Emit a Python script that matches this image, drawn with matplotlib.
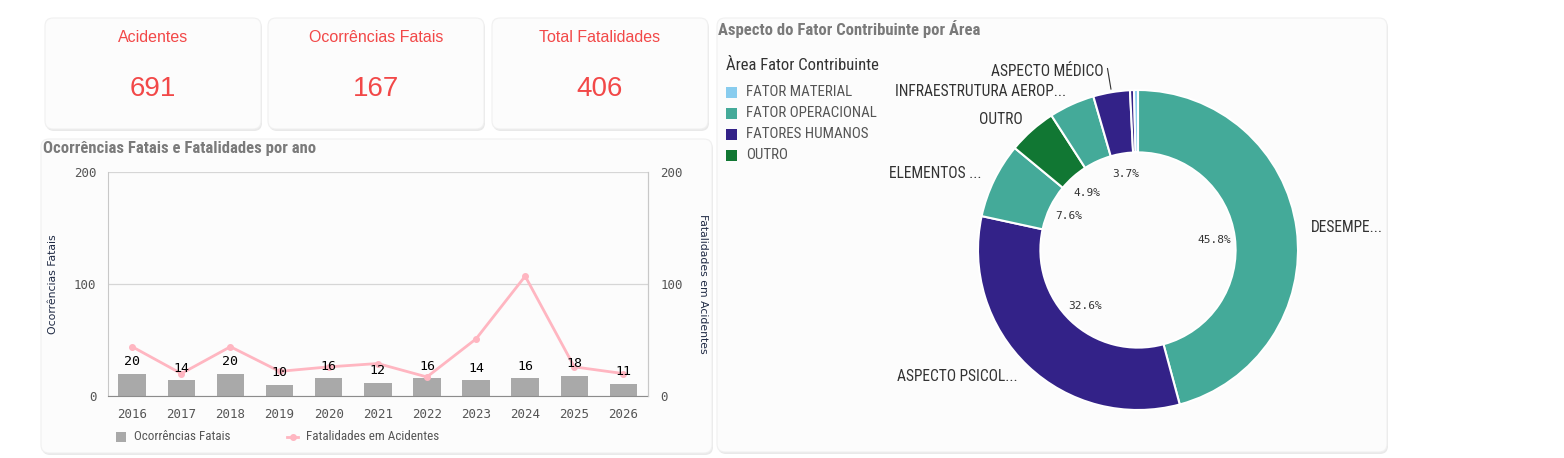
import numpy as np
import matplotlib
matplotlib.use("Agg")
import matplotlib.pyplot as plt
from matplotlib import font_manager
from matplotlib.patches import FancyBboxPatch, Rectangle

# ---- dados ----
kpi_titulos = ["Acidentes", "Ocorrências Fatais", "Total Fatalidades"]
kpi_valores = [691, 167, 406]

anos = ["2016", "2017", "2018", "2019", "2020", "2021", "2022", "2023", "2024", "2025", "2026"]
ocorrencias = [20, 14, 20, 10, 16, 12, 16, 14, 16, 18, 11]
fatalidades = [44, 20, 44, 22, 26, 29, 17, 51, 107, 26, 20]

aspectos = ["DESEMPE...", "ASPECTO PSICOL...", "ELEMENTOS ...", "OUTRO",
            "INFRAESTRUTURA AEROP...", "ASPECTO MÉDICO", "", ""]
aspecto_pct = [45.8, 32.6, 7.6, 4.9, 4.6, 3.7, 0.4, 0.4]
pct_visivel = [True, True, True, True, False, True, False, False]
aspecto_area = ["FATOR OPERACIONAL", "FATORES HUMANOS", "FATOR OPERACIONAL", "OUTRO",
                "FATOR OPERACIONAL", "FATORES HUMANOS", "FATORES HUMANOS", "FATOR MATERIAL"]
areas = ["FATOR MATERIAL", "FATOR OPERACIONAL", "FATORES HUMANOS", "OUTRO"]
cores_area = {"FATOR MATERIAL": "#88ccee", "FATOR OPERACIONAL": "#44aa99",
              "FATORES HUMANOS": "#332288", "OUTRO": "#117733"}

# fonte estreita (estilo Qlik)
disp = {f.name for f in font_manager.fontManager.ttflist}
NARROW = "Liberation Sans"
for nome in ["Liberation Sans Narrow", "Roboto Condensed", "Open Sans Condensed"]:
    if nome in disp:
        NARROW = nome
        break
MONO = "DejaVu Sans Mono"

W, H = 1564, 458
fig = plt.figure(figsize=(W / 100, H / 100), dpi=100)
fig.patch.set_facecolor("white")

bg = fig.add_axes([0, 0, 1, 1])
bg.set_xlim(0, W)
bg.set_ylim(H, 0)
bg.axis("off")


def painel(x0, y0, x1, y1):
    bg.add_patch(FancyBboxPatch((x0 + 1, y0 + 2), x1 - x0, y1 - y0,
                                boxstyle="round,pad=0,rounding_size=8",
                                fc="#e9e9e9", ec="none", zorder=0))
    bg.add_patch(FancyBboxPatch((x0, y0), x1 - x0, y1 - y0,
                                boxstyle="round,pad=0,rounding_size=8",
                                fc="#fcfcfc", ec="#f0f0f0", lw=0.8, zorder=1))


def eixo(x0, y0, x1, y1):
    return fig.add_axes([x0 / W, 1 - y1 / H, (x1 - x0) / W, (y1 - y0) / H])


# ---- cartões KPI ----
card_x = [45, 268, 492]
for cx, t, v in zip(card_x, kpi_titulos, kpi_valores):
    painel(cx, 18, cx + 216, 129)
    bg.text(cx + 108, 37, t, ha="center", va="center", fontsize=11.5,
            color="#f24848", family="Liberation Sans", zorder=3)
    bg.text(cx + 108, 89, str(v), ha="center", va="center", fontsize=20,
            color="#f24848", family="Liberation Sans", zorder=3)

# ---- painel linha / barras ----
painel(41, 139, 712, 453)
bg.text(43, 148, "Ocorrências Fatais e Fatalidades por ano", ha="left", va="center",
        fontsize=12, fontweight="bold", color="#7a7a7a", family=NARROW, zorder=3)

ax = eixo(107.6, 172, 648, 396)
ax.set_facecolor("none")
x = np.arange(len(anos))
ax.bar(x, ocorrencias, width=0.56, color="#a9a9a9", zorder=2)
ax.set_xlim(-0.5, len(anos) - 0.5)
ax.set_ylim(0, 200)
ax.set_yticks([0, 100, 200])
ax.set_xticks(x)
ax.set_xticklabels(anos)
ax.yaxis.grid(True, color="#d6d6d6", lw=0.9)
ax.set_axisbelow(True)
ax.spines["top"].set_visible(False)
ax.spines["left"].set_color("#c8c8c8")
ax.spines["right"].set_color("#c8c8c8")
ax.spines["bottom"].set_color("#8c8c8c")
ax.tick_params(axis="both", length=0, labelsize=9, labelcolor="#555555")
ax.tick_params(axis="y", pad=8)
ax.tick_params(axis="x", pad=9)
for lb in ax.get_xticklabels() + ax.get_yticklabels():
    lb.set_family(MONO)

ax2 = ax.twinx()
ax2.plot(x, fatalidades, color="#ffb6c1", lw=2, marker="o", ms=4, zorder=3)
ax2.set_ylim(0, 200)
ax2.set_yticks([0, 100, 200])
ax2.tick_params(axis="y", length=0, labelsize=9, labelcolor="#555555", pad=9)
for lb in ax2.get_yticklabels():
    lb.set_family(MONO)
for s in ["top", "left", "bottom"]:
    ax2.spines[s].set_visible(False)
ax2.spines["right"].set_color("#c8c8c8")
for i, v in enumerate(ocorrencias):
    ax2.annotate(str(v), (i, v), xytext=(0, 8.6), textcoords="offset points",
                 ha="center", va="center", fontsize=9.5, family=MONO,
                 color="black", zorder=5)

bg.text(53, 284, "Ocorrências Fatais", rotation=90, ha="center", va="center",
        fontsize=7.8, color="#1f2a44", zorder=3)
bg.text(703, 284, "Fatalidades em Acidentes", rotation=270, ha="center", va="center",
        fontsize=7.8, color="#1f2a44", zorder=3)

# legenda manual
bg.add_patch(Rectangle((116, 432), 10, 10, fc="#a9a9a9", ec="none", zorder=3))
bg.text(134, 437, "Ocorrências Fatais", ha="left", va="center", fontsize=9.4,
        color="#555555", family=NARROW, zorder=3)
bg.plot([287, 298], [437, 437], color="#ffb6c1", lw=2, zorder=3)
bg.plot([292.5], [437], "o", color="#ffb6c1", ms=4, zorder=3)
bg.text(306, 437, "Fatalidades em Acidentes", ha="left", va="center", fontsize=9.4,
        color="#555555", family=NARROW, zorder=3)

# ---- painel rosca ----
painel(717, 18, 1387, 452)
bg.text(718, 29, "Aspecto do Fator Contribuinte por Área", ha="left", va="center",
        fontsize=12, fontweight="bold", color="#7a7a7a", family=NARROW, zorder=3)

bg.text(726, 65, "Àrea Fator Contribuinte", ha="left", va="center", fontsize=12,
        color="#333333", family=NARROW, zorder=3)
for k, a in enumerate(areas):
    yy = 92 + k * 21
    bg.add_patch(Rectangle((726, yy - 5.5), 11, 11, fc=cores_area[a], ec="none", zorder=3))
    bg.text(746, yy, a, ha="left", va="center", fontsize=10.8, color="#555555",
            family=NARROW, zorder=3)

dax = eixo(938, 50, 1338, 450)
dax.pie(aspecto_pct, colors=[cores_area[a] for a in aspecto_area], startangle=90,
        counterclock=False, radius=1,
        wedgeprops=dict(width=0.39, edgecolor="white", linewidth=1.5))
dax.set_xlim(-1.25, 1.25)
dax.set_ylim(-1.25, 1.25)
dax.set_aspect("equal")
dax.axis("off")

pct = np.array(aspecto_pct)
meio = (np.cumsum(pct) - pct / 2) / 100 * 2 * np.pi
for p, vis, nome, th in zip(pct, pct_visivel, aspectos, meio):
    sx, sy = np.sin(th), np.cos(th)
    if vis:
        dax.text(0.48 * sx, 0.48 * sy, f"{p:.1f}%", ha="center", va="center",
                 fontsize=8, family=MONO, color="#333333")
    if nome:
        ha = "left" if sx > 0 else "right"
        if p < 4:
            dax.plot([1.02 * sx, 1.15 * sx], [1.02 * sy, 1.15 * sy], color="#333333", lw=0.8,
                     clip_on=False)
            dax.text(1.13 * sx - 0.03, 1.13 * sy, nome, ha=ha, va="center", fontsize=11.2,
                     family=NARROW, color="#333333", clip_on=False)
        else:
            dax.text(1.09 * sx, 1.09 * sy, nome, ha=ha, va="center", fontsize=11.2,
                     family=NARROW, color="#333333", clip_on=False)

fig.savefig("out.png", dpi=100, facecolor="white")
